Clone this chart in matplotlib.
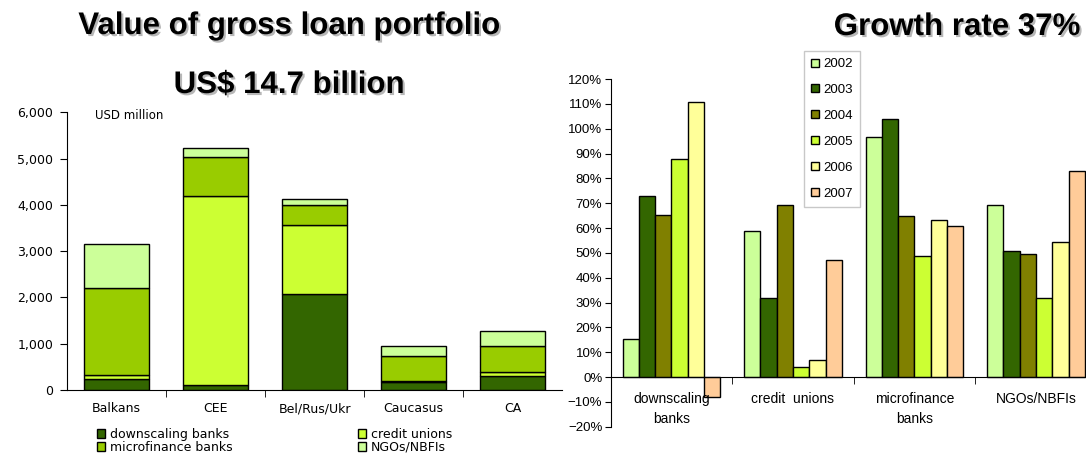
import matplotlib
matplotlib.use("Agg")
import matplotlib.pyplot as plt
import matplotlib.patheffects as pe
from matplotlib.patches import Patch
from matplotlib.ticker import PercentFormatter, StrMethodFormatter
import numpy as np

# Gross loan portfolio by region, USD million
regions = ["Balkans", "CEE", "Bel/Rus/Ukr", "Caucasus", "CA"]
downscaling = [230, 108, 2082, 166, 310]
credit_unions = [87, 4085, 1477, 36, 79]
microfinance = [1895, 843, 432, 533, 562]
ngos = [936, 202, 144, 216, 317]

# Growth rate by institution type, percent
segments = ["downscaling\nbanks", "credit  unions", "microfinance\nbanks", "NGOs/NBFIs"]
years = ["2002", "2003", "2004", "2005", "2006", "2007"]
growth_2002 = [15.4, 58.6, 96.8, 69.4]
growth_2003 = [72.7, 31.9, 104.0, 50.7]
growth_2004 = [65.3, 69.4, 64.7, 49.6]
growth_2005 = [87.8, 4.2, 48.8, 31.9]
growth_2006 = [110.9, 7.0, 63.3, 54.4]
growth_2007 = [-8.0, 47.1, 61.0, 82.8]

stack_colors = ["#336600", "#CCFF33", "#99CC00", "#CCFF99"]
year_colors = ["#CCFF99", "#336600", "#808000", "#CCFF33", "#FFFF99", "#FFCC99"]

W, H = 1086, 454
fig = plt.figure(figsize=(W / 100, H / 100), dpi=100)
fig.patch.set_facecolor("white")

ARIAL = "Liberation Sans"
WIDE = "DejaVu Sans"

# ---- left: stacked bars ----
ax1 = fig.add_axes([67 / W, 64 / H, 495 / W, 277.7 / H])
x = np.arange(len(regions))
bottom = np.zeros(len(regions))
stack_names = ["downscaling banks", "credit unions", "microfinance banks", "NGOs/NBFIs"]
for vals, col in zip([downscaling, credit_unions, microfinance, ngos], stack_colors):
    ax1.bar(x, vals, 0.65, bottom=bottom, color=col, edgecolor="black", linewidth=1.0)
    bottom += np.array(vals)

ax1.set_xlim(-0.5, len(regions) - 0.5)
ax1.set_ylim(0, 6000)
ax1.set_yticks(np.arange(0, 6001, 1000))
ax1.yaxis.set_major_formatter(StrMethodFormatter("{x:,.0f}"))
ax1.spines[["top", "right"]].set_visible(False)
ax1.set_xticks(x)
ax1.set_xticklabels(regions)
ax1.set_xticks(np.arange(0.5, len(regions) - 0.5, 1), minor=True)
ax1.tick_params(axis="x", which="major", length=0, pad=9)
ax1.tick_params(axis="x", which="minor", length=5, direction="out")
ax1.tick_params(axis="y", length=5, direction="out", pad=5)
for lab in ax1.get_xticklabels() + ax1.get_yticklabels():
    lab.set_fontfamily(WIDE)
    lab.set_fontsize(9)
ax1.text(0.057, 0.99, "USD million", transform=ax1.transAxes, fontsize=8.5,
         family=WIDE, va="center", ha="left")

# two-column legend under the stacked bars
handles = [Patch(facecolor=c, edgecolor="black", linewidth=1.0) for c in stack_colors]
leg_opts = dict(loc="upper left", frameon=False, prop={"family": WIDE, "size": 9},
                handlelength=0.65, handleheight=0.65, handletextpad=0.4,
                labelspacing=0.0, borderpad=0, borderaxespad=0)
fig.legend([handles[0], handles[2]], [stack_names[0], stack_names[2]],
           bbox_to_anchor=(97 / W, 1 - 428 / H), **leg_opts)
fig.legend([handles[1], handles[3]], [stack_names[1], stack_names[3]],
           bbox_to_anchor=(358 / W, 1 - 428 / H), **leg_opts)

# ---- right: grouped bars ----
ax2 = fig.add_axes([610.7 / W, 27.3 / H, 486 / W, 347.7 / H])
series = [growth_2002, growth_2003, growth_2004, growth_2005, growth_2006, growth_2007]
n = len(series)
bw = 0.134
xs = np.arange(len(segments))
for i, (vals, col) in enumerate(zip(series, year_colors)):
    ax2.bar(xs + (i - (n - 1) / 2) * bw, vals, bw, color=col, edgecolor="black",
            linewidth=1.0, label=years[i])

ax2.set_xlim(-0.5, len(segments) - 0.5)
ax2.set_ylim(-20, 120)
ax2.set_yticks(np.arange(-20, 121, 10))
ax2.yaxis.set_major_formatter(PercentFormatter(decimals=0))
ax2.spines[["top", "right"]].set_visible(False)
ax2.spines["bottom"].set_position(("data", 0))
ax2.set_xticks(xs)
ax2.set_xticklabels(segments, fontfamily=ARIAL, fontsize=10, linespacing=1.5)
ax2.set_xticks(np.arange(0.5, len(segments) - 0.5, 1), minor=True)
ax2.tick_params(axis="x", which="major", length=0, pad=11)
ax2.tick_params(axis="x", which="minor", length=5, direction="out")
ax2.tick_params(axis="y", length=4, direction="out", pad=2)
for lab in ax2.get_yticklabels():
    lab.set_fontfamily(ARIAL)
    lab.set_fontsize(9.5)

leg = ax2.legend(loc="upper left", bbox_to_anchor=(804 / W, 1 - 51 / H),
                 bbox_transform=fig.transFigure, fancybox=False, framealpha=1,
                 edgecolor="#c8c8c8", prop={"family": ARIAL, "size": 9.5},
                 handlelength=0.55, handleheight=0.55, handletextpad=0.35,
                 labelspacing=1.05, borderpad=0.55, borderaxespad=0)
leg.get_frame().set_linewidth(1.0)

# ---- titles with drop shadow ----
shadow = [pe.withSimplePatchShadow(offset=(1.5, -1.5), shadow_rgbFace="#999999", alpha=0.7)]
fig.text(289 / W, 1 - 34 / H, "Value of gross loan portfolio", ha="center", va="baseline",
         fontsize=22.5, fontweight="bold", family=ARIAL, path_effects=shadow)
fig.text(289 / W, 1 - 93 / H, "US$ 14.7 billion", ha="center", va="baseline",
         fontsize=22.5, fontweight="bold", family=ARIAL, path_effects=shadow)
fig.text(957 / W, 1 - 35 / H, "Growth rate 37%", ha="center", va="baseline",
         fontsize=22.5, fontweight="bold", family=ARIAL, path_effects=shadow)

fig.savefig("out.png", dpi=100)
